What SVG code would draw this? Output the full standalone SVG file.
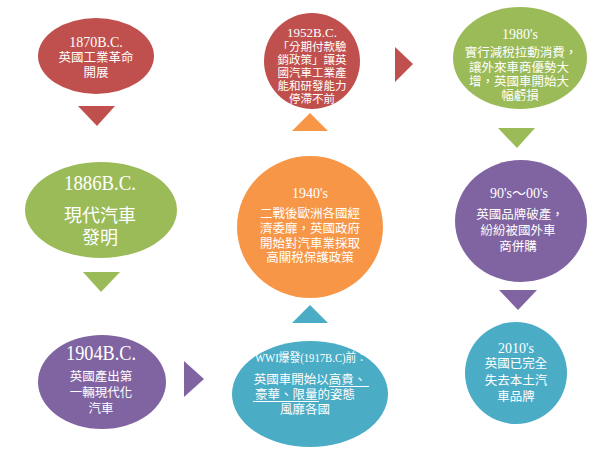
<svg xmlns="http://www.w3.org/2000/svg" width="600" height="457" viewBox="0 0 600 457">
<style>
text{font-family:"Liberation Serif","Noto Sans CJK TC",serif;fill:#fff;text-anchor:middle}
.s{font-size:12.5px}.s12{font-size:11.5px}.l14{font-size:14px}
.red{fill:#C0504D}.green{fill:#9BBB59}.purple{fill:#8064A2}.teal{fill:#4BACC6}.orange{fill:#F79646}
.ul{stroke:#fff;stroke-width:1}
</style>
<rect width="600" height="457" fill="#fff"/>
<g id="connectors">
<polygon class="red" points="78,106 115,106 97,126"/>
<polygon class="green" points="83,272 120,272 101,292"/>
<polygon class="purple" points="184,361 184,397 204,379"/>
<polygon class="teal" points="292,323 328,323 310,305"/>
<polygon class="orange" points="292,131 328,131 310,113"/>
<polygon class="red" points="395,47 395,82 413,64"/>
<polygon class="green" points="498,128 535,128 517,148"/>
<polygon class="purple" points="499,290 537,290 518,310"/>
</g>
<g id="n1870">
<ellipse class="red" cx="96" cy="56" rx="58" ry="38"/>
<text x="96" y="47" class="l14">1870B.C.</text>
<text x="96" y="62" class="s">英國工業革命</text>
<text x="96" y="77" class="s">開展</text>
</g>
<g id="n1886">
<ellipse class="green" cx="101" cy="210" rx="76" ry="48"/>
<text x="100" y="190" style="font-size:22px" textLength="72" lengthAdjust="spacingAndGlyphs">1886B.C.</text>
<text x="100" y="222" style="font-size:18px">現代汽車</text>
<text x="100" y="244" style="font-size:18px">發明</text>
</g>
<g id="n1904">
<ellipse class="purple" cx="102" cy="382" rx="64" ry="47"/>
<text x="101" y="360" style="font-size:20px" textLength="70" lengthAdjust="spacingAndGlyphs">1904B.C.</text>
<text x="101" y="381" class="s">英國產出第</text>
<text x="101" y="397" class="s">一輛現代化</text>
<text x="101" y="413" class="s">汽車</text>
</g>
<g id="nWWI">
<ellipse class="teal" cx="310" cy="394" rx="78" ry="53"/>
<text x="311" y="362" class="s" textLength="112" lengthAdjust="spacingAndGlyphs">WWI爆發(1917B.C)前：</text>
<text x="310" y="384" class="s">英國車開始以高貴、</text>
<text x="305" y="399" class="s">豪華、限量的姿態</text>
<text x="305" y="414" class="s">風靡各國</text>
<line class="ul" x1="329" y1="386.5" x2="369" y2="386.5"/>
<line class="ul" x1="253" y1="401.5" x2="319" y2="401.5"/>
</g>
<g id="n1940">
<ellipse class="orange" cx="310" cy="227" rx="73" ry="71"/>
<text x="310" y="198" class="l14">1940's</text>
<text x="310" y="218" class="s">二戰後歐洲各國經</text>
<text x="310" y="233" class="s">濟委靡，英國政府</text>
<text x="310" y="248" class="s">開始對汽車業採取</text>
<text x="310" y="262" class="s">高關稅保護政策</text>
</g>
<g id="n1952">
<ellipse class="red" cx="312" cy="61" rx="48" ry="48"/>
<text x="312" y="37" style="font-size:13px">1952B.C.</text>
<text x="312" y="51" class="s12">「分期付款驗</text>
<text x="312" y="64" class="s12">銷政策」讓英</text>
<text x="312" y="77" class="s12">國汽車工業產</text>
<text x="312" y="90" class="s12">能和研發能力</text>
<text x="312" y="103" class="s12">停滯不前</text>
</g>
<g id="n1980">
<ellipse class="green" cx="520" cy="58" rx="67" ry="51"/>
<text x="520" y="39" class="l14">1980's</text>
<text x="521" y="57" class="s">實行減稅拉動消費，</text>
<text x="519" y="72" class="s">讓外來車商優勢大</text>
<text x="519" y="86" class="s">增，英國車開始大</text>
<text x="520" y="100" class="s">幅虧損</text>
</g>
<g id="n90s">
<ellipse class="purple" cx="521" cy="221" rx="66" ry="61"/>
<text x="519" y="198" class="l14">90's～00's</text>
<text x="520" y="219" class="s">英國品牌破產，</text>
<text x="518" y="235" class="s">紛紛被國外車</text>
<text x="518" y="251" class="s">商併購</text>
</g>
<g id="n2010">
<ellipse class="teal" cx="516" cy="373" rx="51" ry="51"/>
<text x="516" y="353" class="l14">2010's</text>
<text x="516" y="368" class="s">英國已完全</text>
<text x="516" y="385" class="s">失去本土汽</text>
<text x="516" y="401" class="s">車品牌</text>
</g>
</svg>
